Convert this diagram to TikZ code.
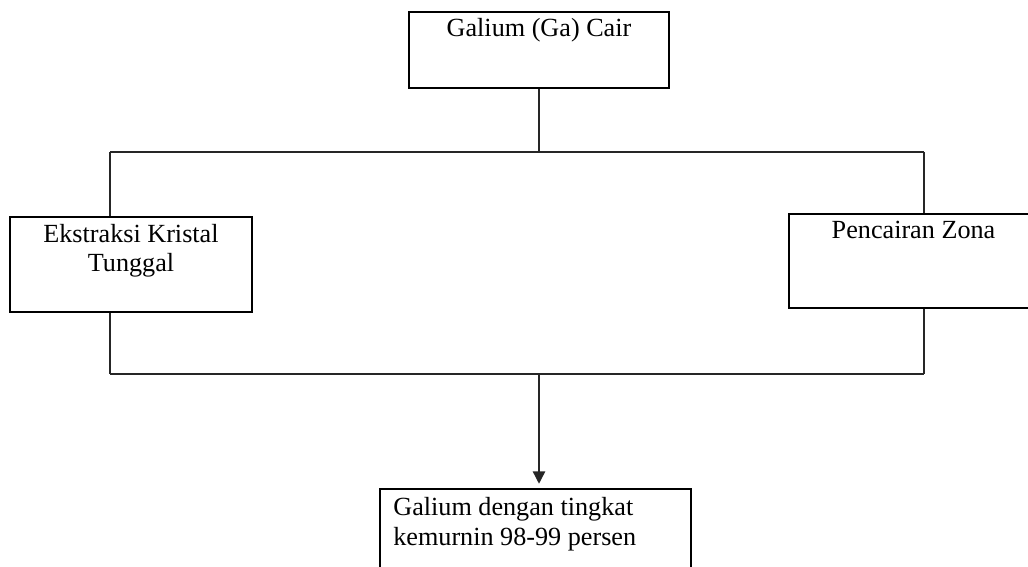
\documentclass[tikz,border=0pt]{standalone}
\usepackage{fontspec}
\setmainfont{Liberation Serif}
\usepackage{tikz}
\usetikzlibrary{arrows.meta}
\usetikzlibrary{positioning}

\begin{document}
\begin{tikzpicture}[x=0.02cm,y=-0.02cm,
                box node/.style={rectangle,draw,line width=1pt,inner sep=0pt},
                box text/.style={inner sep=0pt,font=\fontsize{14.9}{17}\selectfont},
                line/.style={draw,line width=0.8pt,black!85}]

        \useasboundingbox (0,0) rectangle (1028,567);

        % kotak
        \node[box node,minimum width=5.2cm,minimum height=1.52cm] (cair) at (539,50) {};
        \node[box node,minimum width=4.84cm,minimum height=1.9cm] (kristal) at (131,264.5) {};
        \node[box node,minimum width=4.98cm,minimum height=1.88cm] (zona) at (913.5,261) {};
        \node[box node,minimum width=6.22cm,minimum height=2cm] (murni) at (535.5,539) {};

        % teks (base = baris terakhir)
        \node[box text,anchor=base] (tcair) at (539,37) {Galium (Ga) Cair};
        \node[box text,anchor=base,align=center] (tkristal) at (131,272) {Ekstraksi Kristal\\Tunggal};
        \node[box text,anchor=base] (tzona) at (913.5,239) {Pencairan Zona};
        \node[box text,anchor=base west,align=left] (tmurni) at (393,545) {Galium dengan tingkat\\kemurnin 98-99 persen};

        % titik cabang
        \coordinate (atas) at (539,152);
        \coordinate (kiri atas) at (110,152);
        \coordinate (kanan atas) at (924,152);
        \coordinate (kiri bawah) at (110,374);
        \coordinate (kanan bawah) at (924,374);
        \coordinate (bawah) at (539,374);

          \path[line]
            (cair) -- (atas)
            (kiri atas) -- (kanan atas)
            (kiri atas) -- (kiri atas |- kristal.north)
            (kanan atas) -- (kanan atas |- zona.north)
            (kiri bawah |- kristal.south) -- (kiri bawah)
            (kanan bawah |- zona.south) -- (kanan bawah)
            (kiri bawah) -- (kanan bawah);

          \draw[line,-{Triangle[width=7pt,length=7pt]},shorten >=2.5pt]
            (bawah) -- (bawah |- murni.north);

\end{tikzpicture}
\end{document}
